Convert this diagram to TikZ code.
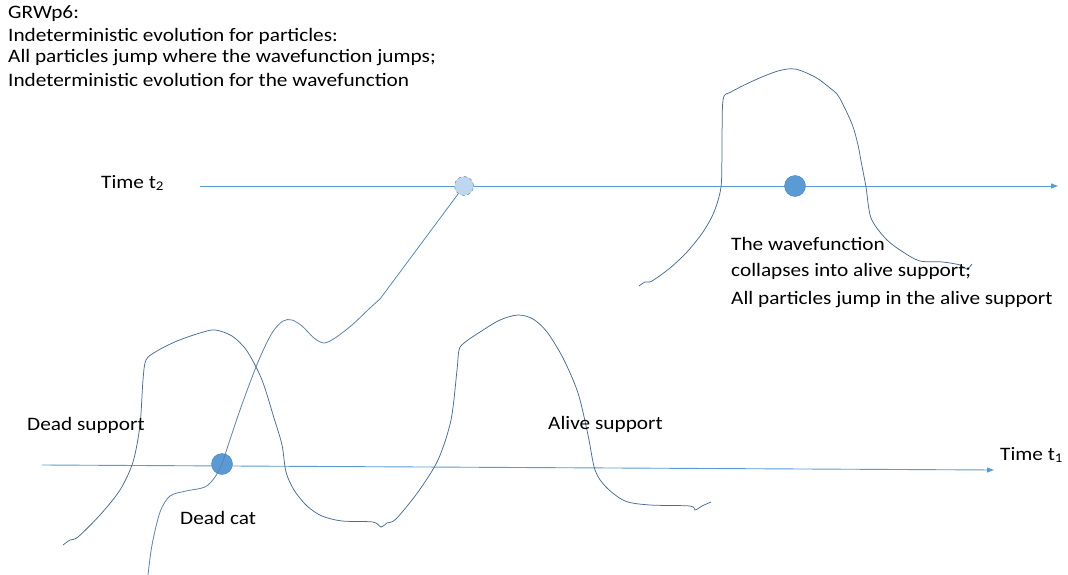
\documentclass[tikz,border=0pt]{standalone}
\usepackage{fontspec}
\setmainfont{Carlito}[FakeStretch=1.12]
\usetikzlibrary{arrows.meta}
\definecolor{axisblue}{RGB}{91,155,213}
\definecolor{wavecol}{RGB}{72,108,150}
\definecolor{trajcol}{RGB}{95,130,170}
\definecolor{ghostfill}{RGB}{189,215,238}
\definecolor{ghostline}{RGB}{120,140,165}
\definecolor{dotfill}{RGB}{91,155,213}
\tikzset{
  axisline/.style={draw=axisblue, line width=0.9pt, -{Triangle[length=7pt,width=5pt]}},
  wave/.style={draw=wavecol, line width=0.75pt},
  traj/.style={draw=trajcol, line width=0.8pt},
  lbl/.style={font=\fontsize{19}{23}\selectfont, text=black, inner sep=0pt},
  dot/.style={circle, fill=dotfill, draw=dotfill!85!black, line width=0.4pt, minimum size=21pt, inner sep=0pt},
  ghost/.style={circle, fill=ghostfill, draw=ghostline, dashed, line width=0.6pt, minimum size=19pt, inner sep=0pt}
}
\begin{document}
\begin{tikzpicture}[x=1pt,y=-1pt]
\useasboundingbox[fill=white] (0,0) rectangle (1068,575);
% header text
\node[lbl, anchor=west] (h1) at (8,14) {GRWp6:};
\node[lbl, anchor=west] (h2) at (8,36) {Indeterministic evolution for particles:};
\node[lbl, anchor=west] (h3) at (8,58) {All particles jump where the wavefunction jumps;};
\node[lbl, anchor=west] (h4) at (8,80) {Indeterministic evolution for the wavefunction};
% axes
\coordinate (a2s) at (200,186);
\coordinate (a2e) at (1058,186);
\coordinate (a1s) at (42,465);
\coordinate (a1e) at (994,470);
\draw[axisline] (a2s) -- (a2e);
\draw[axisline] (a1s) -- (a1e);
\node[lbl, anchor=west] (t2) at (101,183) {Time t\textsubscript{2}};
\node[lbl, anchor=west] (t1) at (1000,455) {Time t\textsubscript{1}};
% lower wavefunction
\draw[wave] plot[smooth, tension=0.5] coordinates {
 (63,545) (70,540) (78,537) (100,515) (120,490) (133,462) (140,425) (143,380) (146,360)
 (157,351) (177,341) (200,333) (215,330) (232,336) (247,351) (262,380) (274,418) (282,445)
 (286,472) (294,490) (307,506) (322,516) (342,521) (373,522) (381,527) (387,523) (396,519)
 (418,492) (438,460) (451,420) (457,370) (459,350) (464,343) (480,332) (500,320) (518,315) (533,319)
 (547,332) (563,358) (578,393) (588,435) (595,470) (606,487) (625,501) (650,505) (690,506)
 (695,510) (702,506) (711,502)};
% upper collapsed wavefunction
\draw[wave] plot[smooth, tension=0.5] coordinates {
 (639,286) (645,282) (652,281) (670,268) (687,252) (703,232) (714,212) (721,187) (722,150) (723,100)
 (731,92) (755,80) (778,71) (795,69) (815,77) (830,88) (839,97) (852,124) (858,145) (861,161) (866,187)
 (871,218) (886,239) (903,252) (920,261) (943,262) (960,265) (967,269) (972,264)};
% nodes
\node[dot] (dc) at (222,464) {};
\node[dot] (alive) at (795,186) {};
\node[ghost] (g) at (464,186) {};
% trajectory
\coordinate (tb) at (148,575);
\draw[traj] plot[smooth, tension=0.5] coordinates {
 (tb) (152,545) (160,512) (170,496) (186,491) (205,487) (215,477) (dc.center)};
\coordinate (bend) at (380,299);
\draw[traj] plot[smooth, tension=0.5] coordinates {
 (dc.center) (240,410) (258,362) (272,333) (283,321) (292,320) (302,326) (314,338) (324,343) (335,338)
 (352,325) (370,308) (bend)};
\draw[draw=axisblue!90!black, line width=0.8pt] (bend) -- (g);
% labels
\node[lbl, anchor=west] (ds) at (27,425) {Dead support};
\node[lbl, anchor=west] (as) at (548,424) {Alive support};
\node[lbl, anchor=west] (dcl) at (180,518) {Dead cat};
\node[lbl, anchor=west] (w1) at (731,244) {The wavefunction};
\node[lbl, anchor=west] (w2) at (731,271) {collapses into alive support;};
\node[lbl, anchor=west] (w3) at (731,300) {All particles jump in the alive support};
\end{tikzpicture}
\end{document}
